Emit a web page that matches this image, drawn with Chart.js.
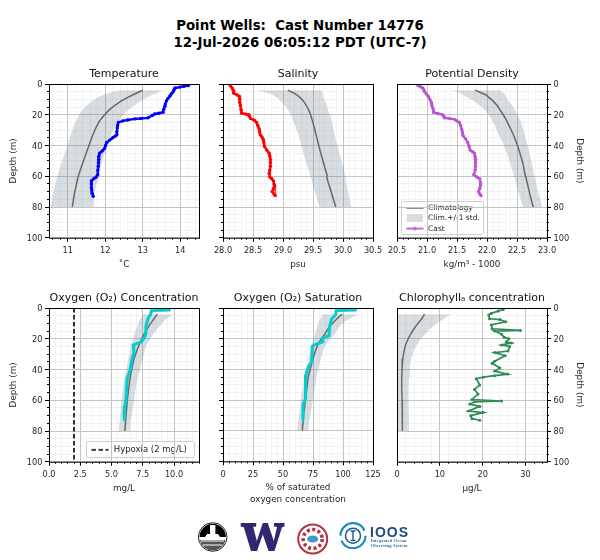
<!DOCTYPE html>
<html><head><meta charset="utf-8">
<script src="https://cdn.jsdelivr.net/npm/chart.js@4/dist/chart.umd.min.js"></script>
<style>
html,body{margin:0;padding:0;background:#fff;width:600px;height:560px;overflow:hidden}
canvas{position:absolute;display:block}
#t{position:absolute;left:0;top:18px;width:600px;text-align:center;font:bold 13.35px/16.5px "DejaVu Sans";color:#000}
#logos{position:absolute;left:0;top:0}
</style></head><body>
<div id="t">Point Wells:&nbsp; Cast Number 14776<br>12-Jul-2026 06:05:12 PDT (UTC-7)</div>
<script>
// Climatology depths (m), shared by all panels
const climDepth=[4,5.5,7,9,11,14,17,20,24,28,33,39,45,52,60,61,71,80];

const tempDepth=[1,1.5,2,2.6,3.5,5,6.5,8,9.5,11,13,14.5,16.5,18.4,19,19.5,20.5,22,22.4,22.7,23.4,24,25,27,28.6,31,33,34,35,36.5,38,40,42,43.5,45,47,49,51,53.5,56,59,60.5,61.5,63,65,67.5,69,71,73];
const tempCast=[14.22,14.1,13.99,13.86,13.84,13.81,13.76,13.72,13.67,13.63,13.6,13.59,13.56,13.54,13.43,13.32,13.25,13.14,12.95,12.79,12.6,12.47,12.35,12.33,12.32,12.31,12.31,12.26,12.2,12.12,12.04,12.01,11.98,11.92,11.85,11.83,11.83,11.82,11.81,11.8,11.8,11.76,11.7,11.63,11.63,11.63,11.64,11.65,11.68];
const tempClim=[13.0,12.87,12.74,12.58,12.43,12.25,12.1,11.98,11.85,11.76,11.67,11.58,11.49,11.39,11.28,11.27,11.18,11.12];
const tempLow=[12.38,12.14,11.95,11.78,11.65,11.5,11.38,11.3,11.22,11.15,11.08,11.0,10.92,10.82,10.72,10.71,10.61,10.55];
const tempHigh=[13.54,13.4,13.25,13.1,12.95,12.77,12.6,12.48,12.36,12.26,12.16,12.07,11.98,11.9,11.82,11.81,11.71,11.69];

const salDepth=[1,2.5,4,5,6,7,8,10,12,14,16.5,19,19.6,20,21,22.5,23.5,25,27,29,31,33,34.5,36,38,40.5,43,45,47,49,51,53.5,56,58,60.4,61.5,63,65,66.5,68,70,71.5,72.5];
const salCast=[28.12,28.15,28.17,28.18,28.18,28.23,28.27,28.28,28.28,28.29,28.3,28.31,28.38,28.43,28.44,28.46,28.52,28.56,28.58,28.6,28.61,28.62,28.65,28.67,28.68,28.69,28.73,28.77,28.78,28.79,28.79,28.79,28.78,28.77,28.78,28.81,28.84,28.85,28.86,28.84,28.82,28.85,28.87];
const salClim=[29.08,29.16,29.23,29.29,29.34,29.39,29.43,29.46,29.49,29.52,29.55,29.59,29.63,29.68,29.74,29.73,29.81,29.88];
const salLow=[28.58,28.72,28.83,28.9,28.96,29.03,29.09,29.13,29.17,29.21,29.26,29.3,29.34,29.39,29.46,29.47,29.54,29.61];
const salHigh=[29.64,29.66,29.67,29.68,29.7,29.73,29.75,29.78,29.81,29.83,29.86,29.9,29.94,29.99,30.04,30.04,30.09,30.13];

const denDepth=[1,1.8,2.6,4,5,6.5,8,10,12,14,16,18.4,19.2,20,21,22,22.5,23,24,25,27,29.6,31.5,33.5,35.5,38,40.5,43,44,45,47,49,51,53.5,56,59,60.5,61.7,64,66,68,70,71.5,72.5];
const denCast=[20.85,20.89,20.93,20.95,20.96,20.99,21.02,21.05,21.07,21.08,21.1,21.11,21.18,21.26,21.28,21.29,21.38,21.46,21.5,21.54,21.56,21.58,21.59,21.6,21.64,21.68,21.7,21.72,21.76,21.79,21.8,21.81,21.81,21.81,21.8,21.78,21.83,21.88,21.89,21.89,21.88,21.86,21.88,21.9];
const denClim=[21.8,21.89,21.98,22.04,22.1,22.17,22.22,22.27,22.33,22.38,22.44,22.5,22.55,22.6,22.64,22.65,22.71,22.77];
const denLow=[21.43,21.52,21.6,21.69,21.78,21.88,21.97,22.03,22.09,22.14,22.2,22.27,22.33,22.39,22.45,22.46,22.53,22.6];
const denHigh=[22.21,22.26,22.3,22.33,22.36,22.42,22.47,22.51,22.56,22.59,22.63,22.67,22.71,22.75,22.79,22.8,22.86,22.92];

const concDepth=[1.3,1.7,4.3,6.5,12,17,19,22,24,29,34.6,41,45.5,54,60.6,65,73];
const concCast=[9.68,8.2,8.13,7.94,7.75,7.75,7.65,7.4,6.74,6.79,6.6,6.47,6.26,6.2,6.15,6.02,6.02];
const concClim=[8.66,8.53,8.4,8.22,8.05,7.82,7.6,7.42,7.2,7.02,6.8,6.64,6.5,6.38,6.27,6.26,6.15,6.07];
const concLow=[7.54,7.42,7.3,7.2,7.1,6.95,6.8,6.72,6.6,6.48,6.35,6.2,6.05,5.93,5.8,5.79,5.68,5.59];
const concHigh=[9.89,9.65,9.4,9.15,8.95,8.62,8.34,8.1,7.8,7.65,7.5,7.3,7.1,6.95,6.8,6.79,6.58,6.47];
const hypoxiaValue=[2,2];
const hypoxiaDepth=[0,100];

const satDepth=[1.3,1.7,4.3,7.5,12,18,19.5,22,24,25,35,39,44,51,59,63,73];
const satCast=[111,94.4,93.9,90.3,88.9,88.3,83.3,83.3,76.4,74.4,73.9,70.8,68.9,68.9,68.6,66.7,66.7];
const satClim=[99.2,97,95,92.5,90,87.2,84.8,82,79,77,75,73,71,69.9,68.7,68.6,67,66.1];
const satLow=[83.3,82.2,81,80,79,77.8,76.7,75.5,73.9,72.7,71.4,69.7,68,66.5,65,64.8,63.2,61.7];
const satHigh=[113,109,105,101.5,98,95.4,93,89.5,85.5,83.5,81.5,79.7,78,76.4,74.8,74.6,72.5,70.8];

const chlDepth=[1,2,3.5,4.5,7,7.5,9,11,13.5,14.6,15,17,19,20,22,22.7,24,25,28,29,31,34.6,36,39,41,43,44,45,46,50,53,56,59.5,60.5,61,62.5,64,67,68,70,72,73];
const chlCast=[24.8,23.6,22,21.4,21.6,24,25.3,22,22.2,28.8,22.8,24.4,25,26.1,25.5,26.7,24.4,26.3,25.9,22.8,25.2,22.8,22.2,24,22.8,25.8,22.8,20.1,18.5,19.3,18.1,18.9,17.5,24.4,18.1,17,19.3,16.7,20.1,17.2,17.5,19.3];
const chlClim=[6.4,6.15,5.8,5.2,4.6,3.85,3.2,2.6,2.0,1.65,1.35,1.2,1.1,1.1,1.2,1.22,1.25,1.3];
const chlLow=[0.3,0.2,0.1,0.05,0,0,0,0,0,0,0,0,0,0,0,0,0,0];
const chlHigh=[12.5,11.8,11,9.9,8.8,7.6,6.6,5.6,4.6,3.9,3.3,3.0,2.8,2.7,2.7,2.7,2.8,2.9];

const depthTicks=20, depthMinor=5, depthMax=100;
const legendClim='Climatology', legendBand='Clim.+/-1 std.', legendCast='Cast', legendHypoxia='Hypoxia (2 mg/L)';

const FONT='"DejaVu Sans"', TXT='#262626';
const CLIM='#696969', BAND='rgba(112,128,144,0.27)';
const pts=(xs,ys)=>xs.map((x,i)=>({x,y:ys[i]}));

// tick positions at whole multiples of a step, inside the axis range
function multiples(step){return s=>{
  const out=[];const a=Math.ceil(s.min/step-1e-6),b=Math.floor(s.max/step+1e-6);
  for(let n=a;n<=b;n++)out.push({value:+(n*step).toFixed(6)});
  s.ticks=out;
};}

function swatch(draw){
  const c=document.createElement('canvas');c.width=18;c.height=8;
  draw(c.getContext('2d'));return c;
}
function hline(color,w,dash,marker){return swatch(g=>{
  g.strokeStyle=color;g.lineWidth=w;if(dash)g.setLineDash(dash);
  g.beginPath();g.moveTo(0.5,4);g.lineTo(17.5,4);g.stroke();
  if(marker){g.fillStyle=color;g.beginPath();g.arc(9,4,marker,0,7);g.fill();}
});}
const bandSwatch=swatch(g=>{g.fillStyle=BAND;g.fillRect(1,0,16,8);});

function frameAndLegend(box){return {
  id:'frameAndLegend',
  afterLayout(ch){
    if(!box||!ch.legend)return;
    const a=ch.chartArea,l=ch.legend;
    l.left=a.left+box.textX;l.right=l.left+box.w;
    l.top=a.top+box.textY;l.bottom=ch.height;
    if(!l._framed){
      l._framed=true;const d=l.draw;
      l.draw=function(){
        const g=ch.ctx;g.save();
        g.beginPath();g.roundRect(a.left+box.x+.5,a.top+box.y+.5,box.w,box.h,2);
        g.fillStyle='rgba(255,255,255,0.8)';g.fill();
        g.strokeStyle='#cfcfcf';g.lineWidth=1;g.stroke();g.restore();
        d.call(this);
      };
    }
  },
  afterDraw(ch){
    const a=ch.chartArea,g=ch.ctx;g.save();g.strokeStyle='#000';g.lineWidth=1;
    g.strokeRect(a.left+.5,a.top+.5,a.right-a.left,a.bottom-a.top);g.restore();
  }
};}

function panel(p){
  const H=p.xH, W=p.yW, canvasW=W+150+p.pad;
  const c=document.createElement('canvas');
  const left=p.side==='right'?p.L-p.pad:p.L-W;
  c.width=canvasW;c.height=24+154+H;
  c.style.left=left+'px';c.style.top=(p.T-24)+'px';
  document.body.appendChild(c);
  const tickFont={family:FONT,size:8.2};
  const labelFont={family:FONT,size:8.8,lineHeight:11.5/8.8};
  const ds=[];
  if(p.hypo)ds.push({data:pts(hypoxiaValue,hypoxiaDepth),borderColor:'#000',borderWidth:1.6,borderDash:[4.5,2.5],pointRadius:0,fill:false});
  ds.push({data:pts(p.cast,p.castD),borderColor:p.color,backgroundColor:p.color,borderWidth:p.castW||2.4,pointRadius:p.castR,pointBorderWidth:0,fill:false,tension:0});
  ds.push({data:pts(p.clim,climDepth),borderColor:CLIM,borderWidth:1.5,pointRadius:0,fill:false,tension:0});
  ds.push({data:pts(p.low,climDepth),borderWidth:0,borderColor:'transparent',backgroundColor:BAND,pointRadius:0,fill:'+1',tension:0});
  ds.push({data:pts(p.high,climDepth),borderWidth:0,borderColor:'transparent',pointRadius:0,fill:false,tension:0});
  const legendOn=!!p.legend;
  new Chart(c,{type:'line',
    data:{datasets:ds},
    options:{indexAxis:'y',responsive:false,animation:false,devicePixelRatio:1,
      layout:{autoPadding:false,padding:{left:p.side==='right'?p.pad:0,right:p.side==='right'?0:p.pad,top:0,bottom:0}},
      events:[],
      scales:{
        x:{type:'linear',bounds:'data',position:'bottom',weight:1,min:p.min,max:p.max,
          afterBuildTicks:multiples(p.major),
          ticks:{autoSkip:false,maxRotation:0,font:tickFont,color:TXT,padding:4.5,
            callback:v=>v.toFixed(p.dec)},
          grid:{color:'#c4c4c4',lineWidth:1,tickLength:4,tickColor:'#000',z:0},border:{display:false},
          title:{display:true,text:p.xlabel,color:TXT,padding:0,font:labelFont},
          afterFit(s){s.height=H;}},
        xm:{type:'linear',bounds:'data',axis:'x',position:'bottom',weight:0,min:p.min,max:p.max,
          afterBuildTicks:multiples(p.minor),
          ticks:{autoSkip:false,display:false},
          grid:{color:'#f3f3f3',lineWidth:1,tickLength:2,tickColor:'#000',z:-1},border:{display:false},
          afterFit(s){s.height=0;}},
        y:{type:'linear',bounds:'data',position:p.side==='right'?'right':'left',weight:1,reverse:true,min:0,max:depthMax,
          ticks:{stepSize:depthTicks,includeBounds:false,autoSkip:false,display:p.side!=='mid',font:tickFont,color:TXT,padding:2.5,labelOffset:1,
            callback:v=>String(v)},
          grid:{color:'#c4c4c4',lineWidth:1,tickLength:4,tickColor:'#000',z:0},border:{display:false},
          title:{display:p.side!=='mid',text:'Depth (m)',color:TXT,padding:0,font:{family:FONT,size:8.8,lineHeight:1.3}},
          afterFit(s){s.width=W;}},
        ym:{type:'linear',bounds:'data',axis:'y',position:p.side==='right'?'right':'left',weight:0,reverse:true,min:0,max:depthMax,
          ticks:{stepSize:depthMinor,includeBounds:false,autoSkip:false,display:false},
          grid:{color:'#f3f3f3',lineWidth:1,tickLength:2,tickColor:'#000',z:-1},border:{display:false},
          afterFit(s){s.width=0;}}
      },
      plugins:{
        tooltip:{enabled:false},
        title:{display:true,fullSize:false,text:p.title,color:'#111',font:{family:FONT,size:11,weight:'normal',lineHeight:1.2},padding:{top:8,bottom:2.8}},
        legend:{display:legendOn,position:'chartArea',align:'start',
          labels:legendOn?{usePointStyle:true,pointStyleWidth:p.legendBox.sw,padding:p.legendBox.gap,
            color:TXT,font:{family:FONT,size:p.legendBox.fs,lineHeight:1.2},
            generateLabels:()=>p.legend}:{}}
      }
    },
    plugins:[frameAndLegend(p.legendBox)]
  });
}

const L1=49,L2=223,L3=397,T1=84,T2=308;
const xH1=32.25,xH2=43.65;
const panels=[
 {title:'Temperature',xlabel:'˚C',L:L1,T:T1,side:'left',yW:41,pad:30,xH:xH1,min:10.5,max:14.5,major:1,minor:.2,dec:0,color:'#0000ff',castR:1.7,cast:tempCast,castD:tempDepth,clim:tempClim,low:tempLow,high:tempHigh},
 {title:'Salinity',xlabel:'psu',L:L2,T:T1,side:'mid',yW:24,pad:24,xH:xH1,min:28,max:30.5,major:.5,minor:.1,dec:1,color:'#ff0000',castR:1.7,cast:salCast,castD:salDepth,clim:salClim,low:salLow,high:salHigh},
 {title:'Potential Density',xlabel:'kg/m³ - 1000',L:L3,T:T1,side:'right',yW:38,pad:24,xH:xH1,min:20.5,max:23,major:.5,minor:.1,dec:1,color:'#ba55d3',castR:1.7,cast:denCast,castD:denDepth,clim:denClim,low:denLow,high:denHigh,
  legendBox:{x:4,y:117,w:82,h:33,textX:5.5,textY:117.4,sw:19,gap:2.8,fs:7.5},
  legend:[{text:legendClim,pointStyle:hline(CLIM,1.5),fontColor:TXT,strokeStyle:CLIM,fillStyle:CLIM},
          {text:legendBand,pointStyle:bandSwatch,fontColor:TXT},
          {text:legendCast,pointStyle:hline('#ba55d3',1.8,null,1.8),fontColor:TXT}]},
 {title:'Oxygen (O₂) Concentration',xlabel:'mg/L',L:L1,T:T2,side:'left',yW:41,pad:30,xH:xH1,min:0,max:12,major:2.5,minor:.5,dec:1,color:'#00ced1',castR:1,castW:3,cast:concCast,castD:concDepth,clim:concClim,low:concLow,high:concHigh,hypo:true,
  legendBox:{x:37,y:133,w:108,h:16,textX:39,textY:135.1,sw:19,gap:2.5,fs:8.5},
  legend:[{text:legendHypoxia,pointStyle:hline('#000',1.6,[4.5,2.5]),fontColor:TXT}]},
 {title:'Oxygen (O₂) Saturation',xlabel:['% of saturated','oxygen concentration'],L:L2,T:T2,side:'mid',yW:24,pad:24,xH:xH2,min:0,max:125,major:25,minor:5,dec:0,color:'#00ced1',castR:1,castW:3,cast:satCast,castD:satDepth,clim:satClim,low:satLow,high:satHigh},
 {title:'Chlorophyllₐ concentration',xlabel:'μg/L',L:L3,T:T2,side:'right',yW:38,pad:24,xH:xH1,min:0,max:35,major:10,minor:2,dec:0,color:'#2e8b57',castR:1.5,castW:1.7,cast:chlCast,castD:chlDepth,clim:chlClim,low:chlLow,high:chlHigh}
];
panels.forEach(panel);
</script>
<svg id="logos" width="600" height="560" viewBox="0 0 600 560">
  <circle cx="212.7" cy="537" r="14.3" fill="#fff" stroke="#222" stroke-width="1"/>
  <path d="M199.5 537a13.2 13.2 0 0 1 26.4 0z" fill="#000"/>
  <path d="M199.8 540a13.2 13.2 0 0 0 25.8 0z" fill="#555"/>
  <rect x="210" y="525" width="5.4" height="10" fill="#fff"/>
  <path d="M205 537h15l-2-3h-11z" fill="#fff"/>
  <path d="M201 541h23M203 545h19" stroke="#fff" stroke-width="1"/>
  <path fill="#33266e" d="M240.7 523h15.5v3.5l-3 .5 3.6 14 6-18h5l6 18 3.2-14-3-.5V523h10.5v3.5l-2.5.7L274.5 551h-6l-5.7-16.5L257 551h-6l-7.2-23.8-3.1-.7z"/>
  <circle cx="312.7" cy="539" r="14.5" fill="#fff" stroke="#b5303f" stroke-width="2"/>
  <circle cx="312.7" cy="539" r="9.5" fill="none" stroke="#b5303f" stroke-width="3.5" stroke-dasharray="3 2.5"/>
  <ellipse cx="312.7" cy="539" rx="5.5" ry="3.6" fill="#3f97cf"/>
  <circle cx="353" cy="535.7" r="12.5" fill="none" stroke="#1c8fb8" stroke-width="2.2" stroke-dasharray="34 5"/>
  <circle cx="353" cy="535.7" r="7.5" fill="none" stroke="#1c5c8e" stroke-width="1.5"/>
  <path d="M350.5 531h5M350.5 540.5h5M353 531v9.5" stroke="#1c5c8e" stroke-width="1.4" fill="none"/>
  <text x="370" y="536.5" font-family="Liberation Sans" font-weight="bold" font-size="14" fill="#1f4a87" textLength="38">IOOS</text>
  <text x="370.5" y="542" font-family="Liberation Serif" font-weight="bold" font-size="4.6" fill="#3a6fa8" textLength="36">Integrated Ocean</text>
  <text x="370.5" y="547" font-family="Liberation Serif" font-weight="bold" font-size="4.6" fill="#3a6fa8" textLength="37">Observing System</text>
</svg>
</body></html>
